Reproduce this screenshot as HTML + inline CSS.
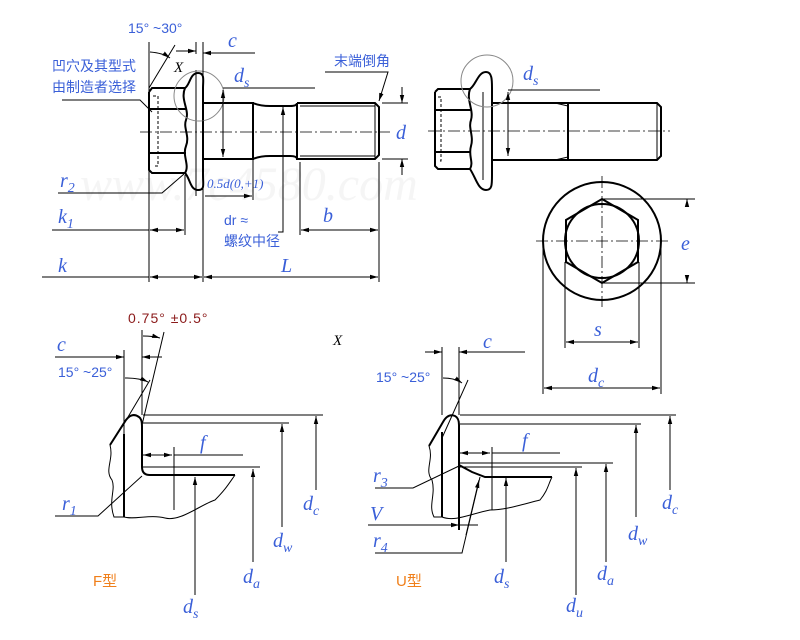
<!DOCTYPE html>
<html><head><meta charset="utf-8"><style>
body{margin:0;background:#fff}
svg{display:block}
.b{stroke:#000;stroke-width:2;fill:none}
.t{stroke:#000;stroke-width:1;fill:none}
.c{stroke:#000;stroke-width:0.8;fill:none;stroke-dasharray:12 3 2 3}
.lb{font-family:"Liberation Serif",serif;font-style:italic;fill:#3a5fd8;font-size:20px}
.cn{font-family:"Liberation Sans","Noto Sans CJK SC",sans-serif;fill:#3a5fd8;font-size:14px}
</style></head><body>
<svg width="800" height="640" viewBox="0 0 800 640" xmlns="http://www.w3.org/2000/svg">
<defs><marker id="a" markerWidth="8" markerHeight="6" refX="8" refY="3" orient="auto-start-reverse"><path d="M0,0.8L8,3L0,5.2z" fill="#000"/></marker></defs>
<text x="80" y="200" font-family="Liberation Serif" font-style="italic" font-size="48" fill="#f5f5f5">www.7c4580.com</text>

<!-- LEFT BOLT -->
<g>
<path class="b" d="M149,92 L152,88 L185,88 M149,92 L149,170 L152,173 L185,173"/>
<path class="b" d="M149,109 L186,109 M149,153 L186,153"/>
<path class="t" d="M153,96 L158,96 L158,166 L153,166" stroke-dasharray="3 2"/>
<path class="b" d="M185,88 C180,100 190,110 186,120 C183,128 190,136 186,146 C182,156 190,165 185,173"/>
<path class="b" d="M185,88 C190,85 190,73 198,73 C205,73 203,80 203,88 L203,175 C203,185 205,190 198,190 C190,190 190,178 185,173"/>
<path class="t" d="M196,70 L196,196"/>
<path class="b" d="M203,103 L253,103 L253,159 L203,159"/>
<path class="b" d="M253,103 Q260,106 270,106 L290,106 Q297,106 297,103 M253,159 Q260,156 270,156 L290,156 Q297,156 297,159"/>
<path class="b" d="M297,103 L375,103 L379,107 L379,155 L375,159 L297,159 L297,103"/>
<path class="t" d="M300,106 L375,106 M300,156 L375,156 M375,103 L375,159"/>
<line class="c" x1="140" y1="132" x2="390" y2="132"/>
<circle cx="199" cy="96" r="25" stroke="#888" stroke-width="1" fill="none"/>
<path class="t" d="M149,42 L149,282 M149,88 L175,45"/>
<path class="t" d="M150,52 Q163,53 170,58" marker-end="url(#a)"/>
<text x="128" y="33" class="cn" font-size="15">15°  ~30°</text>
<path class="t" d="M196,42 L196,54 M203,42 L203,282"/>
<line class="t" x1="176" y1="51" x2="196" y2="51" marker-end="url(#a)"/>
<line class="t" x1="255" y1="53" x2="203" y2="53" marker-end="url(#a)"/>
<text x="228" y="47" class="lb">c</text>
<text x="174" y="72" font-family="Liberation Serif" font-style="italic" font-size="15">X</text>
<text x="52" y="71" class="cn" font-size="13">凹穴及其型式</text>
<text x="52" y="92" class="cn" font-size="13">由制造者选择</text>
<path class="t" d="M62,100 L140,100 L152,112"/>
<path class="t" d="M223,88 L315,88"/>
<line class="t" x1="223" y1="90" x2="223" y2="157" marker-start="url(#a)" marker-end="url(#a)"/>
<text x="234" y="82" class="lb">d<tspan font-size="14" dy="5">s</tspan></text>
<text x="334" y="66" class="cn" font-size="13">末端倒角</text>
<path class="t" d="M325,72 L388,72 L379,101" marker-end="url(#a)"/>
<path class="t" d="M382,103 L408,103 M382,159 L408,159"/>
<line class="t" x1="402" y1="87" x2="402" y2="103" marker-end="url(#a)"/>
<line class="t" x1="402" y1="175" x2="402" y2="159" marker-end="url(#a)"/>
<text x="396" y="139" class="lb" font-size="22">d</text>
<path class="t" d="M58,193 L162,193 L184,174"/>
<text x="60" y="187" class="lb">r<tspan font-size="14" dy="5">2</tspan></text>
<text x="207" y="188" font-family="Liberation Serif" font-style="italic" font-size="13" fill="#3a5fd8">0.5d(0,+1)</text>
<line class="t" x1="205" y1="196" x2="252" y2="196" marker-end="url(#a)"/>
<path class="t" d="M253,160 L253,200"/>
<path class="t" d="M283,110 L283,232 L278,232"/>
<line class="t" x1="283" y1="130" x2="283" y2="107" marker-end="url(#a)"/>
<text x="224" y="225" font-family="Liberation Sans" font-size="14" fill="#3a5fd8">dr ≈</text>
<text x="224" y="246" class="cn" font-size="13">螺纹中径</text>
<path class="t" d="M185,175 L185,235"/>
<path class="t" d="M52,230 L149,230"/>
<line class="t" x1="150" y1="230" x2="184" y2="230" marker-start="url(#a)" marker-end="url(#a)"/>
<text x="58" y="223" class="lb">k<tspan font-size="14" dy="5">1</tspan></text>
<path class="t" d="M300,162 L300,235 M379,162 L379,282"/>
<line class="t" x1="301" y1="230" x2="378" y2="230" marker-start="url(#a)" marker-end="url(#a)"/>
<text x="323" y="222" class="lb">b</text>
<path class="t" d="M42,277 L149,277"/>
<line class="t" x1="150" y1="277" x2="202" y2="277" marker-start="url(#a)" marker-end="url(#a)"/>
<line class="t" x1="204" y1="277" x2="378" y2="277" marker-start="url(#a)" marker-end="url(#a)"/>
<text x="58" y="272" class="lb">k</text>
<text x="281" y="272" class="lb">L</text>
</g>

<!-- RIGHT BOLT -->
<g>
<path class="b" d="M435,92 L438,89 L470,89 M435,92 L435,166 L438,169 L470,169 M435,110 L471,110 M435,152 L471,152"/>
<path class="t" d="M438,97 L441,97 L441,161 L438,161" stroke-dasharray="3 2"/>
<path class="b" d="M470,89 C466,100 474,110 471,120 C468,128 474,136 471,146 C468,156 474,162 470,169"/>
<path class="b" d="M470,89 C476,85 478,72 486,72 C492,72 492,80 492,88 L492,175 C492,185 492,190 486,190 C478,190 476,178 470,169"/>
<path class="t" d="M483,92 L483,180"/>
<path class="b" d="M492,103 L657,103 L661,107 L661,156 L657,160 L492,160 M568,103 L568,160"/>
<path class="t" d="M657,103 L657,160 M555,103 L568,106 M555,160 L568,157"/>
<line class="c" x1="428" y1="131" x2="670" y2="131"/>
<circle cx="487" cy="81" r="26" stroke="#888" stroke-width="1" fill="none"/>
<path class="t" d="M508,90 L600,90"/>
<line class="t" x1="508" y1="92" x2="508" y2="156" marker-start="url(#a)" marker-end="url(#a)"/>
<text x="523" y="80" class="lb">d<tspan font-size="14" dy="5">s</tspan></text>
</g>

<!-- END VIEW -->
<g>
<circle cx="602" cy="241" r="59" class="b" stroke-width="1.6"/>
<circle cx="602" cy="241" r="37" class="b" stroke-width="1.6"/>
<polygon class="b" stroke-width="1.6" points="602,199 638,220 638,262 602,283 566,262 566,220"/>
<line class="c" x1="602" y1="176" x2="602" y2="307"/>
<line class="c" x1="536" y1="241" x2="668" y2="241"/>
<path class="t" d="M602,199 L695,199 M602,283 L695,283"/>
<line class="t" x1="687" y1="205" x2="687" y2="199" marker-end="url(#a)"/>
<line class="t" x1="687" y1="277" x2="687" y2="283" marker-end="url(#a)"/>
<text x="681" y="250" class="lb">e</text>
<path class="t" d="M565,262 L565,348 M639,262 L639,348"/>
<line class="t" x1="566" y1="342" x2="638" y2="342" marker-start="url(#a)" marker-end="url(#a)"/>
<text x="594" y="336" class="lb">s</text>
<path class="t" d="M543,245 L543,394 M661,245 L661,394"/>
<line class="t" x1="544" y1="388" x2="660" y2="388" marker-start="url(#a)" marker-end="url(#a)"/>
<text x="588" y="382" class="lb">d<tspan font-size="14" dy="5">c</tspan></text>
</g>

<text x="333" y="345" font-family="Liberation Serif" font-style="italic" font-size="15">X</text>

<!-- F DETAIL -->
<g>
<text x="128" y="323" font-family="Liberation Sans" font-size="14" letter-spacing="1" fill="#8b1a1a">0.75°  ±0.5°</text>
<path class="t" d="M142,330 L142,415 M124,350 L124,440 M142,425 L164,332 M128,417 L150,380"/>
<path class="t" d="M143,336 Q153,336 160,338" marker-end="url(#a)"/>
<path class="t" d="M125,378 Q140,378 148,382" marker-end="url(#a)"/>
<path class="t" d="M55,357 L124,357 M142,357 L162,357"/>
<line class="t" x1="112" y1="357" x2="124" y2="357" marker-end="url(#a)"/>
<line class="t" x1="155" y1="357" x2="142" y2="357" marker-end="url(#a)"/>
<text x="57" y="351" class="lb">c</text>
<text x="58" y="377" class="cn" font-size="14">15°  ~25°</text>
<path class="b" d="M110,445 L126,420 Q132,412 139,417 Q142,419 142,426 L142,467 Q142,475 150,475 L235,475"/>
<path class="b" d="M124,434 L124,517"/>
<path class="t" d="M110,445 C114,460 104,470 112,480 C116,490 108,500 114,517 L124,517 C135,520 150,514 165,518 C180,522 200,505 215,500 C225,490 228,485 235,475"/>
<path class="t" d="M143,415 L323,415 M143,423 L289,423 M143,467 L260,467 M174,455 L243,455 M174,447 L174,510"/>
<line class="t" x1="143" y1="455" x2="172" y2="455" marker-start="url(#a)" marker-end="url(#a)"/>
<text x="200" y="449" class="lb">f</text>
<line class="t" x1="316" y1="490" x2="316" y2="416" marker-end="url(#a)"/>
<line class="t" x1="282" y1="527" x2="282" y2="424" marker-end="url(#a)"/>
<line class="t" x1="253" y1="562" x2="253" y2="469" marker-end="url(#a)"/>
<line class="t" x1="195" y1="595" x2="195" y2="477" marker-end="url(#a)"/>
<text x="303" y="510" class="lb">d<tspan font-size="14" dy="5">c</tspan></text>
<text x="273" y="547" class="lb">d<tspan font-size="14" dy="5">w</tspan></text>
<text x="243" y="583" class="lb">d<tspan font-size="14" dy="5">a</tspan></text>
<text x="183" y="613" class="lb">d<tspan font-size="14" dy="5">s</tspan></text>
<path class="t" d="M55,516 L98,516 L142,476"/>
<text x="62" y="510" class="lb">r<tspan font-size="14" dy="5">1</tspan></text>
<text x="93" y="586" font-family="Liberation Sans,Noto Sans CJK SC,sans-serif" font-size="15" fill="#f07f1a">F型</text>
</g>

<!-- U DETAIL -->
<g>
<path class="t" d="M442,347 L442,415 M459,347 L459,415 M425,352 L442,352 M459,352 L525,352 M442,438 L468,380"/>
<line class="t" x1="432" y1="352" x2="442" y2="352" marker-end="url(#a)"/>
<line class="t" x1="470" y1="352" x2="459" y2="352" marker-end="url(#a)"/>
<text x="483" y="348" class="lb">c</text>
<text x="376" y="382" class="cn" font-size="14">15°  ~25°</text>
<path class="t" d="M443,378 Q455,378 462,383" marker-end="url(#a)"/>
<path class="b" d="M429,446 L443,422 Q448,413 455,416 Q459,418 459,425 L459,465 L472,472 L485,477 L552,477"/>
<path class="b" d="M442,432 L442,517 M459,465 L459,530"/>
<path class="t" d="M429,446 C434,460 424,470 432,480 C436,495 428,505 434,517 L442,517 C455,522 470,514 490,510 C505,510 520,505 540,500 C548,490 548,485 552,477"/>
<path class="t" d="M460,415 L676,415 M460,424 L641,424 M460,463 L613,463 M460,467 L582,467 M492,453 L560,453 M492,447 L492,510"/>
<line class="t" x1="460" y1="453" x2="490" y2="453" marker-start="url(#a)" marker-end="url(#a)"/>
<text x="522" y="447" class="lb">f</text>
<line class="t" x1="670" y1="490" x2="670" y2="416" marker-end="url(#a)"/>
<line class="t" x1="636" y1="517" x2="636" y2="425" marker-end="url(#a)"/>
<line class="t" x1="606" y1="562" x2="606" y2="464" marker-end="url(#a)"/>
<line class="t" x1="576" y1="595" x2="576" y2="468" marker-end="url(#a)"/>
<line class="t" x1="506" y1="562" x2="506" y2="478" marker-end="url(#a)"/>
<text x="662" y="509" class="lb">d<tspan font-size="14" dy="5">c</tspan></text>
<text x="628" y="540" class="lb">d<tspan font-size="14" dy="5">w</tspan></text>
<text x="597" y="580" class="lb">d<tspan font-size="14" dy="5">a</tspan></text>
<text x="566" y="612" class="lb">d<tspan font-size="14" dy="5">u</tspan></text>
<text x="494" y="583" class="lb">d<tspan font-size="14" dy="5">s</tspan></text>
<path class="t" d="M375,488 L413,488 L459,466"/>
<text x="373" y="482" class="lb">r<tspan font-size="14" dy="5">3</tspan></text>
<path class="t" d="M368,525 L478,525"/>
<line class="t" x1="445" y1="525" x2="459" y2="525" marker-end="url(#a)"/>
<text x="370" y="520" class="lb">V</text>
<path class="t" d="M375,553 L462,553 L480,477"/>
<line class="t" x1="466" y1="535" x2="479" y2="480" marker-end="url(#a)"/>
<text x="373" y="547" class="lb">r<tspan font-size="14" dy="5">4</tspan></text>
<text x="396" y="586" font-family="Liberation Sans,Noto Sans CJK SC,sans-serif" font-size="15" fill="#f07f1a">U型</text>
</g>
</svg>
</body></html>
